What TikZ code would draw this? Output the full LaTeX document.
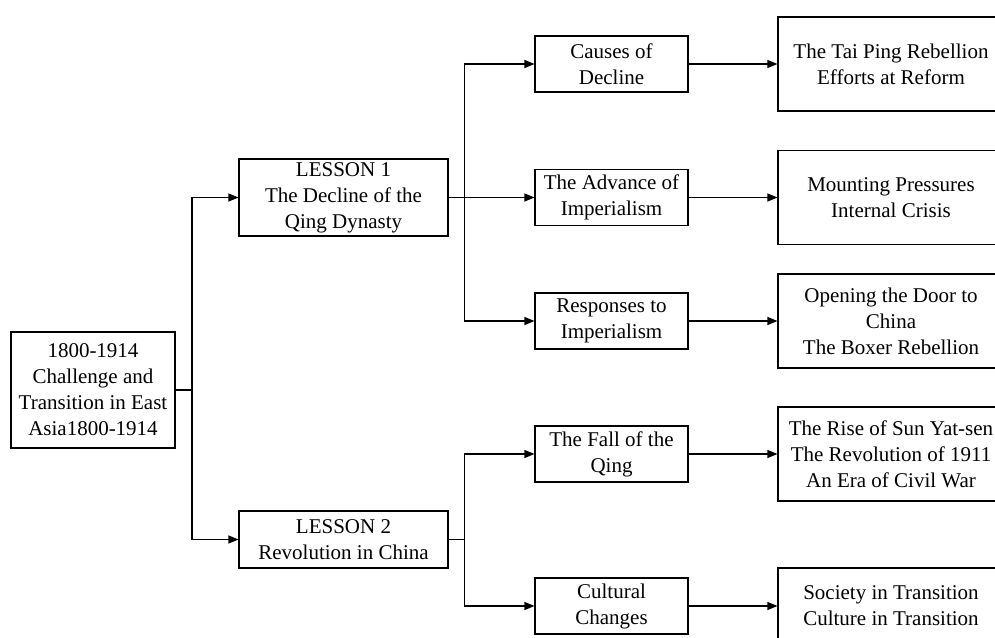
\documentclass[tikz,border=0pt]{standalone}
\usepackage{fontspec}
\setmainfont{Liberation Serif}
\usetikzlibrary{arrows.meta}

\begin{document}
\begin{tikzpicture}[
    x=1pt,y=-1pt,
    every node/.style={font=\fontsize{21}{26}\selectfont},
    box/.style={rectangle,draw,line width=1.1pt,align=center,inner sep=0pt},
    root/.style={box,minimum width=164pt,minimum height=116pt},
    lesson/.style={box,minimum width=209pt},
    topic/.style={box,minimum width=153pt,minimum height=56pt},
    detail/.style={box,minimum width=226pt,minimum height=94pt},
    link/.style={line width=1.1pt,-{Triangle[length=10pt,width=8pt]}}
]
\useasboundingbox (0,0) rectangle (995,637);

% Node grid (absolute positions)
\node[root]   (root)     at (93,390)    {1800-1914\\Challenge and\\Transition in East\\Asia1800-1914};
\node[lesson,minimum height=77pt] (lesson1) at (343.5,197.5) {LESSON 1\\The Decline of the\\Qing Dynasty};
\node[lesson,minimum height=57pt] (lesson2) at (343.5,539.5) {LESSON 2\\Revolution in China};

\node[topic]  (causes)   at (611.5,64)    {Causes of\\Decline};
\node[topic]  (advance)  at (611.5,197.5) {The Advance of\\Imperialism};
\node[topic]  (response) at (611.5,321)   {Responses to\\Imperialism};
\node[topic]  (fall)     at (611.5,454)   {The Fall of the\\Qing};
\node[topic]  (culture)  at (611.5,606)   {Cultural\\Changes};

\node[detail] (taiping)  at (891,64)    {The Tai Ping Rebellion\\Efforts at Reform};
\node[detail] (pressure) at (891,197.5) {Mounting Pressures\\Internal Crisis};
\node[detail] (opening)  at (891,321)   {Opening the Door to\\China\\The Boxer Rebellion};
\node[detail] (sunyat)   at (891,454)   {The Rise of Sun Yat-sen\\The Revolution of 1911\\An Era of Civil War};
\node[detail,minimum height=76pt] (society) at (891,606) {Society in Transition\\Culture in Transition};

% Branch points
\coordinate (j0) at (192,390);
\coordinate (j1) at (464.5,197.5);
\coordinate (j2) at (464.5,539.5);

% Root to lessons
\draw[line width=1.1pt] (root.east) -- (j0);
\draw[link] (j0) |- (lesson1.west);
\draw[link] (j0) |- (lesson2.west);

% Lesson 1 to its topics
\draw[line width=1.1pt] (lesson1.east) -- (j1);
\draw[link] (j1) |- (causes.west);
\draw[link] (j1) -- (advance.west);
\draw[link] (j1) |- (response.west);

% Lesson 2 to its topics
\draw[line width=1.1pt] (lesson2.east) -- (j2);
\draw[link] (j2) |- (fall.west);
\draw[link] (j2) |- (culture.west);

% Topics to details
\draw[link] (causes) -- (taiping);
\draw[link] (advance) -- (pressure);
\draw[link] (response) -- (opening);
\draw[link] (fall) -- (sunyat);
\draw[link] (culture) -- (society);

\end{tikzpicture}
\end{document}
